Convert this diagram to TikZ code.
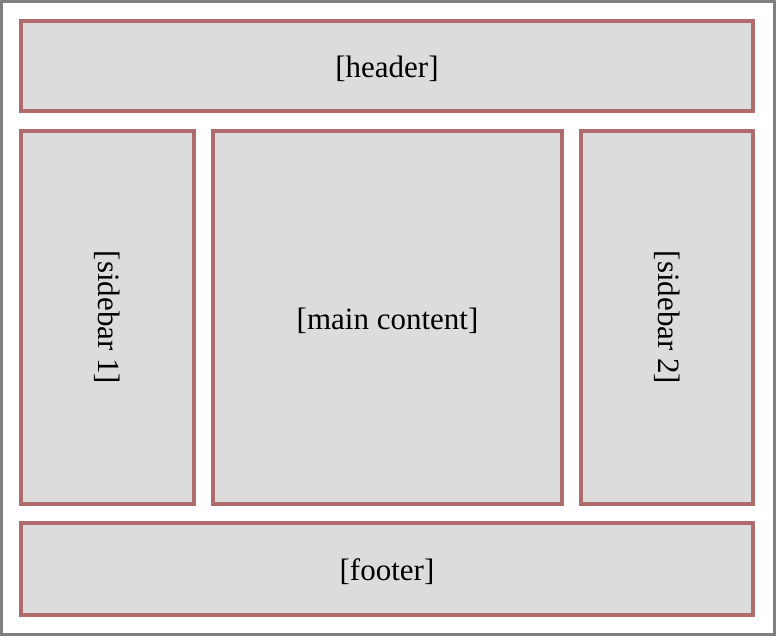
\documentclass[tikz,border=0pt]{standalone}
\usepackage{fontspec}
\setmainfont{Liberation Serif}
\usepackage{tikz}
\usetikzlibrary{positioning}

\begin{document}
\begin{tikzpicture}[x=1pt,y=-1pt,node distance = 19pt]
\tikzstyle{region}=[draw=regionred, fill=regiongray, line width=3.5pt, inner sep=0pt, font=\fontsize{31}{36}\selectfont]
\definecolor{regionred}{RGB}{176,108,108}
\definecolor{regiongray}{RGB}{220,220,220}
\useasboundingbox (0,0) rectangle (776,636);
\draw[line width=3pt, color={rgb,255:red,128;green,128;blue,128}] (1.5,1.5) rectangle (774.5,634.5);
\node[region, minimum width=732pt, minimum height=90pt]	(header)	at (387,66)		{\raisebox{-3pt}[\height][\depth]{[header]}};
\node[region, minimum width=349pt, minimum height=373pt]	(main)	at (387.5,317.5)	{\raisebox{-3pt}[\height][\depth]{[main content]}};
\node[region, minimum width=173pt, minimum height=373pt]	(side1)	at (107.5,317.5)	{\rotatebox{-90}{[sidebar 1]}};
\node[region, minimum width=172pt, minimum height=373pt]	(side2)	at (667,317.5)	{\rotatebox{-90}{[sidebar 2]}};
\node[region, minimum width=732pt, minimum height=92pt]	(footer)	at (387,569)	{\raisebox{-3pt}[\height][\depth]{[footer]}};
\end{tikzpicture}
\end{document}
